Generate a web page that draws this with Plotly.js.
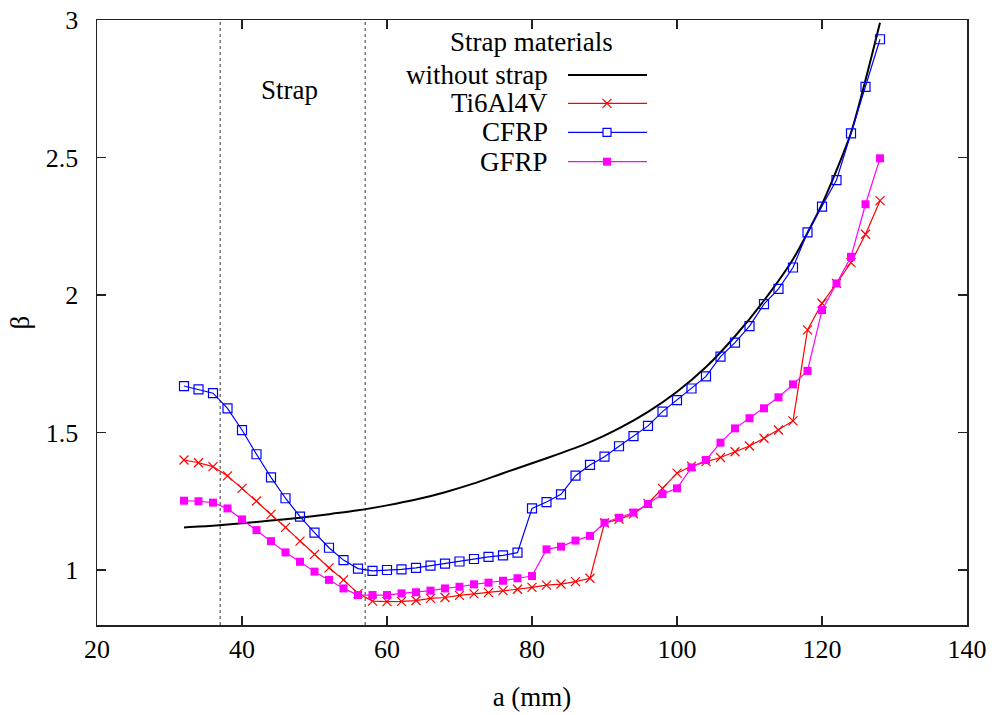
<!DOCTYPE html>
<html>
<head>
<meta charset="utf-8">
<script src="https://cdn.plot.ly/plotly-3.0.1.min.js"></script>
<style>html,body{margin:0;padding:0;background:#fff;}#chart{width:995px;height:715px;}</style>
</head>
<body>
<div id="chart"></div>
<script>
// ---- data ----
const a = [32,34,36,38,40,42,44,46,48,50,52,54,56,58,60,62,64,66,68,70,72,74,76,78,80,
           82,84,86,88,90,92,94,96,98,100,102,104,106,108,110,112,114,116,118,120,122,124,126,128];

const ti6al4v = [1.400,1.390,1.376,1.342,1.297,1.251,1.202,1.155,1.105,1.057,1.008,0.964,0.915,0.887,0.885,0.886,0.889,
                 0.897,0.900,0.908,0.913,0.918,0.925,0.930,0.937,0.945,0.949,0.958,0.970,1.171,1.184,1.204,1.242,
                 1.297,1.352,1.378,1.394,1.409,1.430,1.451,1.479,1.509,1.542,1.873,1.970,2.042,2.118,2.221,2.343];

const cfrp = [1.669,1.657,1.643,1.588,1.509,1.421,1.337,1.261,1.194,1.136,1.081,1.036,1.005,0.997,1.000,1.002,1.008,
              1.016,1.023,1.031,1.040,1.048,1.053,1.063,1.224,1.247,1.275,1.343,1.382,1.412,1.450,1.487,1.524,
              1.576,1.618,1.660,1.704,1.776,1.827,1.887,1.967,2.022,2.100,2.228,2.321,2.418,2.588,2.757,2.930];

const gfrp = [1.252,1.250,1.245,1.224,1.184,1.145,1.105,1.064,1.030,0.994,0.964,0.933,0.909,0.909,0.909,0.915,0.919,
              0.925,0.933,0.939,0.948,0.954,0.961,0.970,0.978,1.075,1.085,1.107,1.124,1.172,1.190,1.209,1.240,
              1.276,1.297,1.373,1.400,1.463,1.515,1.552,1.588,1.628,1.675,1.724,1.945,2.042,2.139,2.330,2.497];

const aNoStrap = [32,36,40,44,48,52,56,60,64,68,72,76,80,84,88,92,96,100,104,108,112,116,120,124,128];
const noStrap  = [1.155,1.161,1.170,1.180,1.190,1.203,1.217,1.235,1.256,1.283,1.315,1.352,1.388,1.425,1.465,
                  1.515,1.575,1.648,1.738,1.850,1.980,2.130,2.330,2.590,2.990];

const strapBounds = [37, 57];
const seriesNames = ["without strap", "Ti6Al4V", "CFRP", "GFRP"];
const xTicks = [20,40,60,80,100,120,140];
const yTicks = [1,1.5,2,2.5,3];

// ---- styling ----
const FONT = "'Liberation Serif', 'Times New Roman', serif";
const FS = 27;
const TFS = 26;
const cRed = "#ff0000", cBlue = "#0000ff", cMag = "#ff00ff";

const traces = [
  {x: aNoStrap, y: noStrap, name: seriesNames[0], mode: "lines",
   line: {color: "#000", width: 2, shape: "spline", smoothing: 0.6}},
  {x: a, y: ti6al4v, name: seriesNames[1], mode: "lines+markers",
   line: {color: cRed, width: 1.2},
   marker: {symbol: "x-thin-open", size: 9, color: cRed, line: {color: cRed, width: 1.2}}},
  {x: a, y: cfrp, name: seriesNames[2], mode: "lines+markers",
   line: {color: cBlue, width: 1.2},
   marker: {symbol: "square-open", size: 9, color: cBlue, line: {color: cBlue, width: 1.2}}},
  {x: a, y: gfrp, name: seriesNames[3], mode: "lines+markers",
   line: {color: cMag, width: 1.2},
   marker: {symbol: "square", size: 8, color: cMag, line: {width: 0}}}
];

// custom gnuplot-like legend (text on the left, sample on the right)
const legY = [0.909, 0.8623, 0.8143, 0.7658];
const legTextX = 0.5207, legL0 = 0.5414, legL1 = 0.6322, legM = 0.5862;
const legColors = ["#000", cRed, cBlue, cMag];

const shapes = [];
strapBounds.forEach(v => shapes.push({type: "line", xref: "x", yref: "paper", x0: v, x1: v, y0: 0, y1: 1,
  line: {color: "#777", width: 1.5, dash: "dot"}, layer: "below"}));

const annotations = [
  {text: "Strap materials", xref: "paper", yref: "paper", x: 0.4989, y: 0.9636, showarrow: false,
   xanchor: "center", yanchor: "middle", font: {family: FONT, size: FS, color: "#000"}},
  {text: "Strap", xref: "x", yref: "y", x: 46.6, y: 2.745, showarrow: false,
   xanchor: "center", yanchor: "middle", font: {family: FONT, size: FS, color: "#000"}}
];

seriesNames.forEach((n, i) => {
  annotations.push({text: n, xref: "paper", yref: "paper", x: legTextX, y: legY[i], showarrow: false,
    xanchor: "right", yanchor: "middle", font: {family: FONT, size: FS, color: "#000"}});
  shapes.push({type: "line", xref: "paper", yref: "paper", x0: legL0, x1: legL1, y0: legY[i], y1: legY[i],
    line: {color: legColors[i], width: i === 0 ? 2 : 1.2}});
});
// legend markers
shapes.push({type: "line", xref: "paper", yref: "paper", xsizemode: "pixel", ysizemode: "pixel",
  xanchor: legM, yanchor: legY[1], x0: -4.5, x1: 4.5, y0: -4.5, y1: 4.5, line: {color: cRed, width: 1.2}});
shapes.push({type: "line", xref: "paper", yref: "paper", xsizemode: "pixel", ysizemode: "pixel",
  xanchor: legM, yanchor: legY[1], x0: -4.5, x1: 4.5, y0: 4.5, y1: -4.5, line: {color: cRed, width: 1.2}});
shapes.push({type: "rect", xref: "paper", yref: "paper", xsizemode: "pixel", ysizemode: "pixel",
  xanchor: legM, yanchor: legY[2], x0: -4, x1: 4, y0: -4, y1: 4, fillcolor: "#fff", line: {color: cBlue, width: 1.2}});
shapes.push({type: "rect", xref: "paper", yref: "paper", xsizemode: "pixel", ysizemode: "pixel",
  xanchor: legM, yanchor: legY[3], x0: -4, x1: 4, y0: -4, y1: 4, fillcolor: cMag, line: {width: 0}});

const axisCommon = {
  showline: true, linecolor: "#222", linewidth: 1.5, mirror: "ticks",
  ticks: "inside", ticklen: 9, tickwidth: 1.5, tickcolor: "#222",
  showgrid: false, zeroline: false,
  tickfont: {family: FONT, size: TFS, color: "#000"}
};

const layout = {
  width: 995, height: 715,
  margin: {l: 97, r: 28, t: 20, b: 90},
  paper_bgcolor: "#fff", plot_bgcolor: "#fff",
  showlegend: false,
  font: {family: FONT, size: FS, color: "#000"},
  xaxis: Object.assign({}, axisCommon, {
    range: [20, 140], tickvals: xTicks, ticktext: xTicks.map(String),
    ticklabelstandoff: 0,
    title: {text: "a (mm)", font: {family: FONT, size: FS}, standoff: 24}
  }),
  yaxis: Object.assign({}, axisCommon, {
    range: [0.8, 3], tickvals: yTicks, ticktext: yTicks.map(String),
    ticklabelstandoff: 12,
    title: {text: "β", font: {family: FONT, size: FS}, standoff: 8}
  }),
  shapes: shapes,
  annotations: annotations
};

Plotly.newPlot("chart", traces, layout, {staticPlot: true, displayModeBar: false});
</script>
</body>
</html>
